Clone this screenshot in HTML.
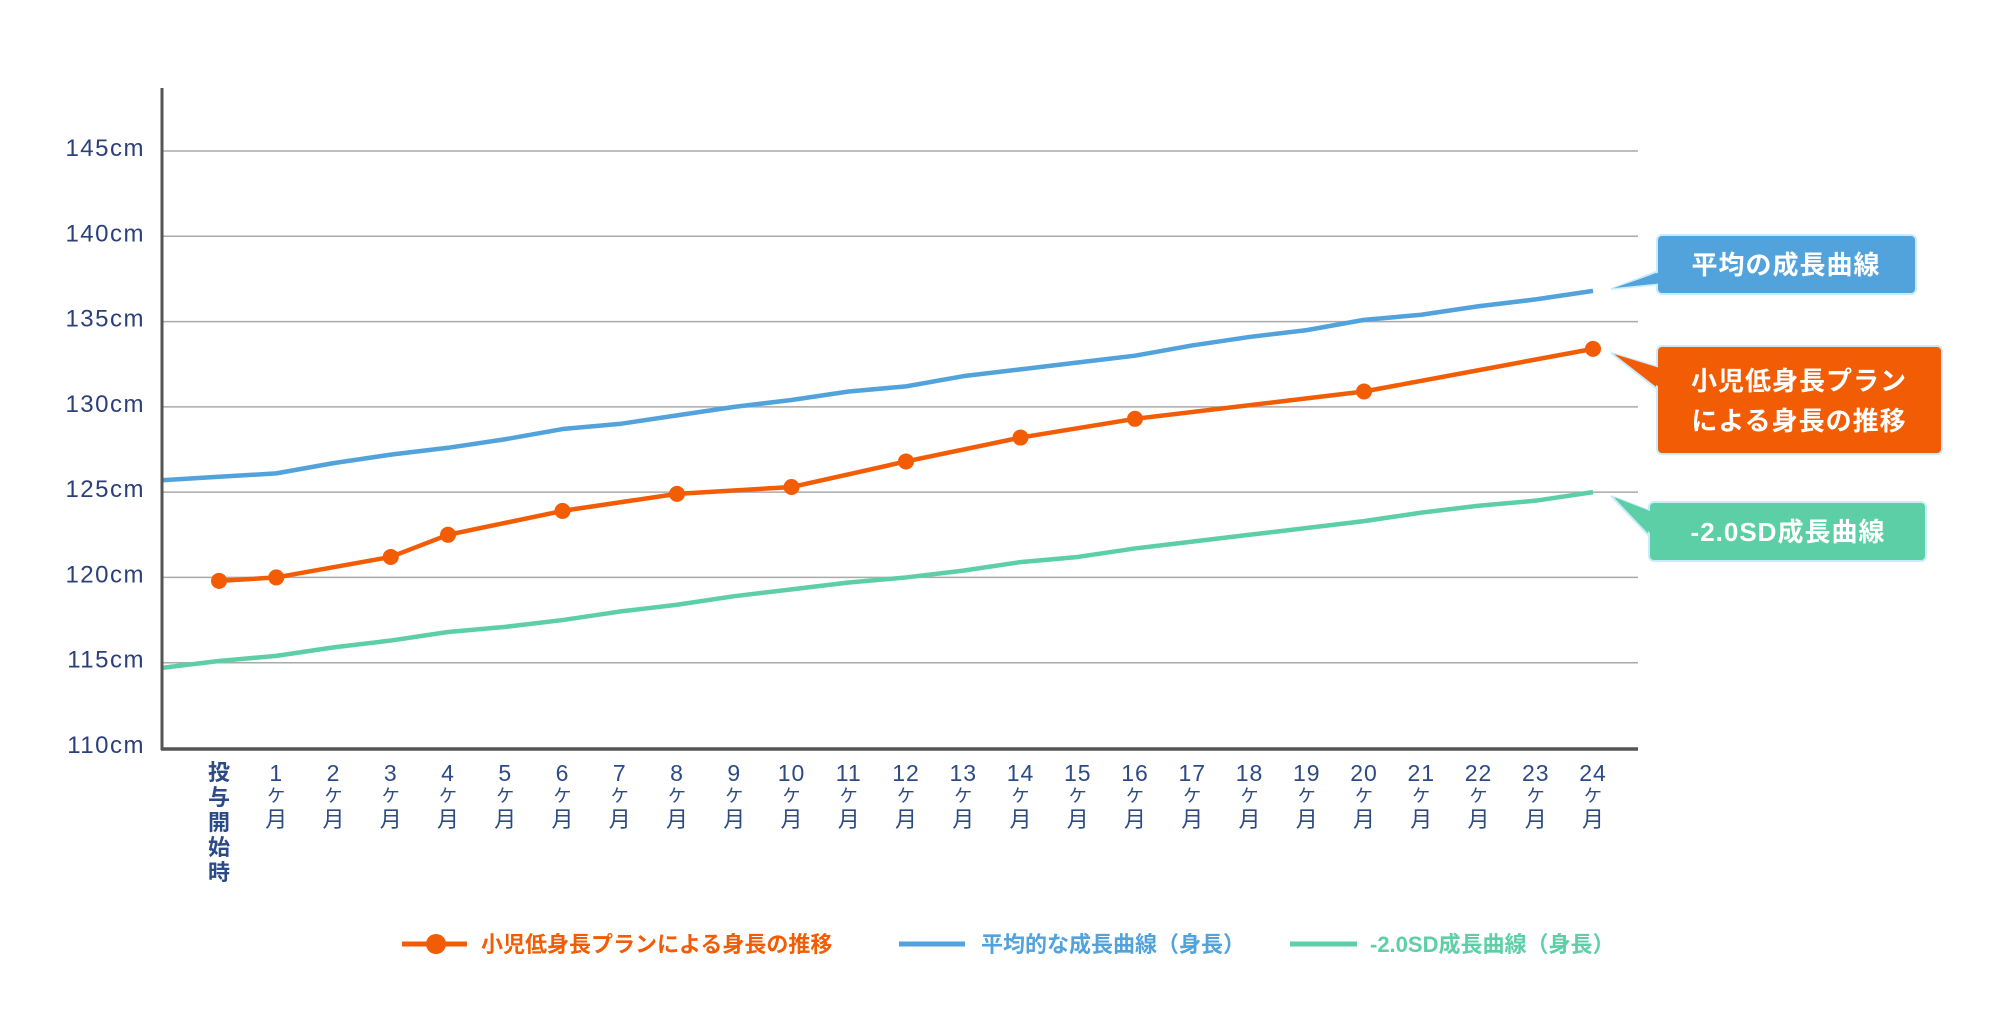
<!DOCTYPE html>
<html><head><meta charset="utf-8"><style>
html,body{margin:0;padding:0;background:#fff;}
svg{display:block;font-family:"Liberation Sans","Noto Sans CJK JP",sans-serif;}
</style></head><body>
<svg id="chart" width="2013" height="1026" viewBox="0 0 2013 1026" xmlns="http://www.w3.org/2000/svg">
<g id="grid"></g>
<g id="ylabels"></g>
<g id="xlabels"></g>
<g id="series"></g>
<line x1="162" y1="88" x2="162" y2="750" stroke="#555" stroke-width="3"/>
<line x1="161" y1="749" x2="1638" y2="749" stroke="#555" stroke-width="3.5"/>

<g>
<polygon points="1661,270 1611,289 1661,284" fill="#52a2dc" stroke="#c9ecfb" stroke-width="2"/>
<rect x="1657" y="235" width="259" height="59" rx="5" fill="#52a2dc" stroke="#c9ecfb" stroke-width="2"/>
<polygon points="1663,271 1614,288 1663,283" fill="#52a2dc"/>
<text x="1786" y="274" text-anchor="middle" font-size="26" font-weight="bold" fill="#fff" letter-spacing="1">平均の成長曲線</text>
</g>
<g>
<polygon points="1661,368 1611,353 1661,392" fill="#f25c05" stroke="#c9ecfb" stroke-width="2"/>
<rect x="1657" y="346" width="285" height="108" rx="5" fill="#f25c05" stroke="#c9ecfb" stroke-width="2"/>
<polygon points="1663,369 1614,354 1663,390" fill="#f25c05"/>
<text x="1799" y="390" text-anchor="middle" font-size="26" font-weight="bold" fill="#fff" letter-spacing="1">小児低身長プラン</text>
<text x="1799" y="430" text-anchor="middle" font-size="26" font-weight="bold" fill="#fff" letter-spacing="1">による身長の推移</text>
</g>
<g>
<polygon points="1653,512 1611,496 1653,540" fill="#5ccfa6" stroke="#c9ecfb" stroke-width="2"/>
<rect x="1649" y="502" width="277" height="59" rx="5" fill="#5ccfa6" stroke="#c9ecfb" stroke-width="2"/>
<polygon points="1655,513 1614,497 1655,538" fill="#5ccfa6"/>
<text x="1788" y="541" text-anchor="middle" font-size="26" font-weight="bold" fill="#fff" letter-spacing="1">-2.0SD成長曲線</text>
</g>

<g>
<g>
<line x1="402" y1="944" x2="467" y2="944" stroke="#f25c05" stroke-width="5"/>
<circle cx="436" cy="944" r="10" fill="#f25c05"/>
<text x="481" y="952" font-size="22" font-weight="bold" fill="#f25c05">小児低身長プランによる身長の推移</text>
</g>
<g>
<line x1="899" y1="944" x2="965" y2="944" stroke="#52a2dc" stroke-width="5"/>
<text x="981" y="952" font-size="22" font-weight="bold" fill="#52a2dc">平均的な成長曲線（身長）</text>
</g>
<g>
<line x1="1290" y1="944" x2="1357" y2="944" stroke="#5ccfa6" stroke-width="5"/>
<text x="1370" y="952" font-size="22" font-weight="bold" fill="#5ccfa6">-2.0SD成長曲線（身長）</text>
</g>
</g>
</svg>
<script>
const yTicks = [110,115,120,125,130,135,140,145];
const months = [-1,0,1,2,3,4,5,6,7,8,9,10,11,12,13,14,15,16,17,18,19,20,21,22,23,24];
const averageValues = [125.7,125.9,126.1,126.7,127.2,127.6,128.1,128.7,129.0,129.5,130.0,130.4,130.9,131.2,131.8,132.2,132.6,133.0,133.6,134.1,134.5,135.1,135.4,135.9,136.3,136.8];
const sdValues = [114.7,115.1,115.4,115.9,116.3,116.8,117.1,117.5,118.0,118.4,118.9,119.3,119.7,120.0,120.4,120.9,121.2,121.7,122.1,122.5,122.9,123.3,123.8,124.2,124.5,125.0];
const treatMonths = [0,1,3,4,6,8,10,12,14,16,20,24];
const treatValues = [119.8,120.0,121.2,122.5,123.9,124.9,125.3,126.8,128.2,129.3,130.9,133.4];
const xLabelMonths = [1,2,3,4,5,6,7,8,9,10,11,12,13,14,15,16,17,18,19,20,21,22,23,24];

const NS = "http://www.w3.org/2000/svg";
function xs(m){ return 219 + m * 57.25; }
function ys(v){ return 748 - (v - 110) * (597/35); }
function mk(tag, attrs, parent){ const e=document.createElementNS(NS,tag); for(const k in attrs) e.setAttribute(k,attrs[k]); parent.appendChild(e); return e; }

const grid=document.getElementById('grid'), yl=document.getElementById('ylabels'), xl=document.getElementById('xlabels'), ser=document.getElementById('series');
yTicks.forEach(t=>{
  if(t>110){
    const g=mk('line',{x1:162,x2:1638,y1:ys(t),y2:ys(t),stroke:'#aaa','stroke-width':1.5},grid);
    
    
  }
  const tx=mk('text',{x:145,y:ys(t)+5,'text-anchor':'end','font-size':24,fill:'#2b3f7a','letter-spacing':1.5},yl);
  tx.textContent=t+'cm';
  
  
});
['投','与','開','始','時'].forEach((c,i)=>{
  const t=mk('text',{x:xs(0),y:780+i*25,'text-anchor':'middle','font-size':22,'font-weight':'bold',fill:'#2b4a86'},xl);
  t.textContent=c;
  
  
});
xLabelMonths.forEach(m=>{
  const g=mk('g',{},xl);
  
  
  const a=mk('text',{x:xs(m),y:781,'text-anchor':'middle','font-size':23,fill:'#2b4a86','letter-spacing':1},g); a.textContent=m;
  const b=mk('text',{x:xs(m),y:802,'text-anchor':'middle','font-size':18,fill:'#2b4a86'},g); b.textContent='ケ';
  const c=mk('text',{x:xs(m),y:827,'text-anchor':'middle','font-size':22,fill:'#2b4a86'},g); c.textContent='月';
});
function line(ms, vs, color, name){
  const p=mk('polyline',{points:ms.map((m,i)=>xs(m)+','+ys(vs[i])).join(' '),fill:'none',stroke:color,'stroke-width':4.5,'stroke-linejoin':'round'},ser);
  
  
}
line(months, averageValues, '#52a2dc', 'average-line');
line(months, sdValues, '#5ccfa6', 'minus2sd-line');
line(treatMonths, treatValues, '#f25c05', 'treatment-line');
treatMonths.forEach((m,i)=>{
  const c=mk('circle',{cx:xs(m),cy:ys(treatValues[i]),r:8,fill:'#f25c05'},ser);
  
  
});
</script>
</body></html>
